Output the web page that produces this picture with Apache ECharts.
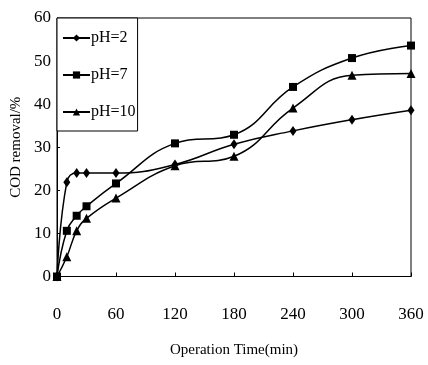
<!DOCTYPE html>
<html>
<head>
<meta charset="utf-8">
<script src="https://cdn.jsdelivr.net/npm/echarts@6/dist/echarts.min.js"></script>
<style>
html,body{margin:0;padding:0;background:#fff;}
#chart{width:428px;height:365px;}
</style>
</head>
<body>
<div id="chart"></div>
<script>
var times = [0, 10, 20, 30, 60, 120, 180, 240, 300, 360];
var pH2 = [0, 21.9, 24.0, 24.0, 24.0, 26.0, 30.7, 33.8, 36.4, 38.6];
var pH7 = [0, 10.6, 14.1, 16.3, 21.6, 30.9, 32.9, 44.0, 50.7, 53.6];
var pH10 = [0, 4.6, 10.6, 13.5, 18.2, 25.7, 27.9, 39.1, 46.7, 47.1];
var seriesNames = ['pH=2', 'pH=7', 'pH=10'];
var xTicks = [0, 60, 120, 180, 240, 300, 360];
var yTicks = [0, 10, 20, 30, 40, 50, 60];

function pairs(vals) { return times.map(function (t, i) { return [t, vals[i]]; }); }
var FONT = '"Liberation Serif", "Times New Roman", serif';

var chart = echarts.init(document.getElementById('chart'));
function mk(name, vals, symbol, size) {
  return {
    name: name, type: 'line', data: pairs(vals), smooth: 0.45,
    symbol: symbol, symbolSize: size, showSymbol: true,
    lineStyle: { color: '#000', width: 1.5 },
    itemStyle: { color: '#000' },
    animation: false
  };
}
chart.setOption({
  animation: false,
  backgroundColor: '#fff',
  grid: { left: 57, right: 17, top: 18, bottom: 88.5, show: true, borderColor: '#000', borderWidth: 1, backgroundColor: 'transparent' },
  legend: {
    orient: 'vertical', left: 57, top: 18,
    data: seriesNames,
    backgroundColor: '#fff', borderColor: '#000', borderWidth: 1,
    padding: [12, 2, 11, 5], itemGap: 21, itemWidth: 27, itemHeight: 9,
    textStyle: { fontFamily: FONT, fontSize: 16, color: '#000', padding: [0, 0, 0, -4] }
  },
  xAxis: {
    type: 'value', min: xTicks[0], max: xTicks[xTicks.length - 1], interval: 60,
    name: 'Operation Time(min)', nameLocation: 'middle', nameGap: 66,
    nameTextStyle: { fontFamily: FONT, fontSize: 15, color: '#000' },
    axisLine: { lineStyle: { color: '#000', width: 1 } },
    axisTick: { inside: true, length: 4, lineStyle: { color: '#000' } },
    axisLabel: { fontFamily: FONT, fontSize: 17, color: '#000', margin: 30 },
    splitLine: { show: false }
  },
  yAxis: {
    type: 'value', min: yTicks[0], max: yTicks[yTicks.length - 1], interval: 10,
    name: 'COD removal/%', nameLocation: 'middle', nameGap: 31,
    nameTextStyle: { fontFamily: FONT, fontSize: 15, color: '#000' },
    axisLine: { show: true, lineStyle: { color: '#000', width: 1 } },
    axisTick: { show: true, inside: true, length: 3, lineStyle: { color: '#000' } },
    axisLabel: { fontFamily: FONT, fontSize: 17, color: '#000', margin: 6 },
    splitLine: { show: false }
  },
  series: [
    mk(seriesNames[0], pH2, 'diamond', [7, 10]),
    mk(seriesNames[1], pH7, 'rect', 8),
    mk(seriesNames[2], pH10, 'triangle', 9)
  ]
});
</script>
</body>
</html>
